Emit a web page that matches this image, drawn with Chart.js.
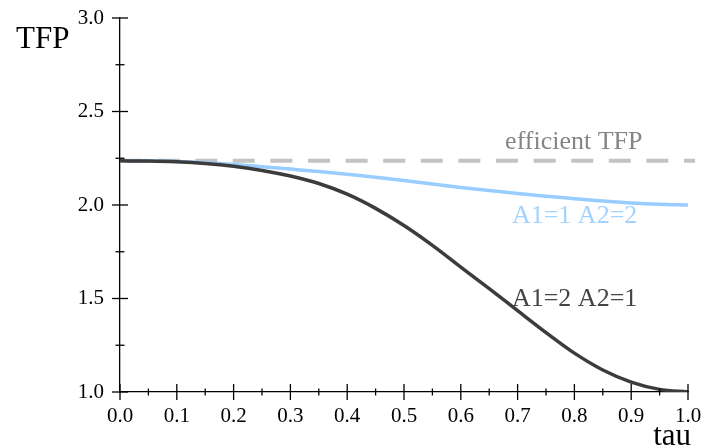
<!DOCTYPE html>
<html>
<head>
<meta charset="utf-8">
<script src="https://cdn.jsdelivr.net/npm/chart.js@4.4.1/dist/chart.umd.min.js"></script>
<style>
html,body{margin:0;padding:0;background:#fff;}
#wrap{width:705px;height:448px;position:relative;}
</style>
</head>
<body>
<div id="wrap"><canvas id="c" width="705" height="448"></canvas></div>
<script>
const tau = [0,0.05,0.1,0.15,0.2,0.25,0.3,0.35,0.4,0.45,0.5,0.55,0.6,0.65,0.7,0.75,0.8,0.85,0.9,0.95,1.0];
const tfpA1is2 = [2.236,2.235,2.231,2.222,2.207,2.185,2.155,2.115,2.058,1.982,1.89,1.784,1.668,1.553,1.435,1.318,1.208,1.118,1.053,1.014,1.0];
const tfpA1is1 = [2.236,2.235,2.232,2.226,2.217,2.205,2.192,2.179,2.165,2.149,2.131,2.112,2.094,2.077,2.061,2.047,2.034,2.021,2.011,2.004,2.0];
const efficientTFP = 2.236;
const efficientX = [0, 1.0125];
const xTicks = [0,0.1,0.2,0.3,0.4,0.5,0.6,0.7,0.8,0.9,1.0];
const yTicks = [1.0,1.5,2.0,2.5,3.0];
const seriesLabels = ["efficient TFP","A1=1 A2=2","A1=2 A2=1"];

const serif = "'Liberation Serif','DejaVu Serif',serif";

const tickPlugin = {
  id:'crossTicks',
  afterDraw(chart){
    const ctx = chart.ctx, xs = chart.scales.x, ys = chart.scales.y;
    const x0 = xs.getPixelForValue(0), y0 = ys.getPixelForValue(1);
    ctx.save();
    ctx.strokeStyle = '#000'; ctx.lineWidth = 1.3;
    for(let i=0;i<=20;i++){
      const v = i*0.05, px = xs.getPixelForValue(v);
      const L = (i%2===0)?8:3.5;
      ctx.beginPath(); ctx.moveTo(px,y0-L); ctx.lineTo(px,y0+L); ctx.stroke();
    }
    for(let i=0;i<=8;i++){
      const v = 1+i*0.25, py = ys.getPixelForValue(v);
      const L = (i%2===0)?8:4.5;
      ctx.beginPath(); ctx.moveTo(x0-L,py); ctx.lineTo(x0+L,py); ctx.stroke();
    }
    ctx.fillStyle = '#000';
    ctx.font = "31px " + serif;
    ctx.textBaseline = 'alphabetic';
    ctx.textAlign = 'left';
    ctx.fillText('TFP', 16, 48);
    ctx.textAlign = 'right';
    ctx.fillText('tau', 691, 445);
    ctx.font = "26px " + serif;
    ctx.textAlign = 'left';
    ctx.fillStyle = '#858585';
    ctx.fillText(seriesLabels[0], xs.getPixelForValue(0.678), ys.getPixelForValue(2.298));
    ctx.fillStyle = '#a3d2ff';
    ctx.fillText(seriesLabels[1], xs.getPixelForValue(0.690), ys.getPixelForValue(1.906));
    ctx.fillStyle = '#444';
    ctx.fillText(seriesLabels[2], xs.getPixelForValue(0.690), ys.getPixelForValue(1.461));
    ctx.restore();
  }
};

new Chart(document.getElementById('c'), {
  type:'line',
  data:{
    datasets:[
      {label:seriesLabels[0], data:efficientX.map(x=>({x:x,y:efficientTFP})), borderColor:'#c3c3c3', borderWidth:4, borderDash:[22,15.6], pointRadius:0, fill:false, clip:false, order:3},
      {label:seriesLabels[1], data:tau.map((t,i)=>({x:t,y:tfpA1is1[i]})), borderColor:'#99ccff', borderWidth:3.5, pointRadius:0, cubicInterpolationMode:'monotone', fill:false, order:2},
      {label:seriesLabels[2], data:tau.map((t,i)=>({x:t,y:tfpA1is2[i]})), borderColor:'#3c3c3c', borderWidth:3.5, pointRadius:0, cubicInterpolationMode:'monotone', fill:false, order:1}
    ]
  },
  options:{
    responsive:false, animation:false,
    layout:{padding:{left:0,top:18,right:17,bottom:0}},
    plugins:{legend:{display:false}, tooltip:{enabled:false}},
    scales:{
      x:{type:'linear', min:0, max:1,
        afterFit(s){ s.height = 56; s.paddingLeft = 0; s.paddingRight = 0; },
        afterBuildTicks(s){ s.ticks = xTicks.map(v=>({value:v})); },
        grid:{display:false, drawTicks:false},
        border:{display:true, color:'#000', width:1.3},
        ticks:{padding:12, color:'#000', font:{family:serif, size:21}, maxRotation:0, autoSkip:false, callback:v=>Number(v).toFixed(1)}
      },
      y:{type:'linear', min:1, max:3,
        afterFit(s){ s.width = 120; s.paddingTop = 0; s.paddingBottom = 0; },
        afterBuildTicks(s){ s.ticks = yTicks.map(v=>({value:v})); },
        grid:{display:false, drawTicks:false},
        border:{display:true, color:'#000', width:1.3},
        ticks:{padding:16, color:'#000', font:{family:serif, size:21}, autoSkip:false, callback:v=>Number(v).toFixed(1)}
      }
    }
  },
  plugins:[tickPlugin]
});
</script>
</body>
</html>
